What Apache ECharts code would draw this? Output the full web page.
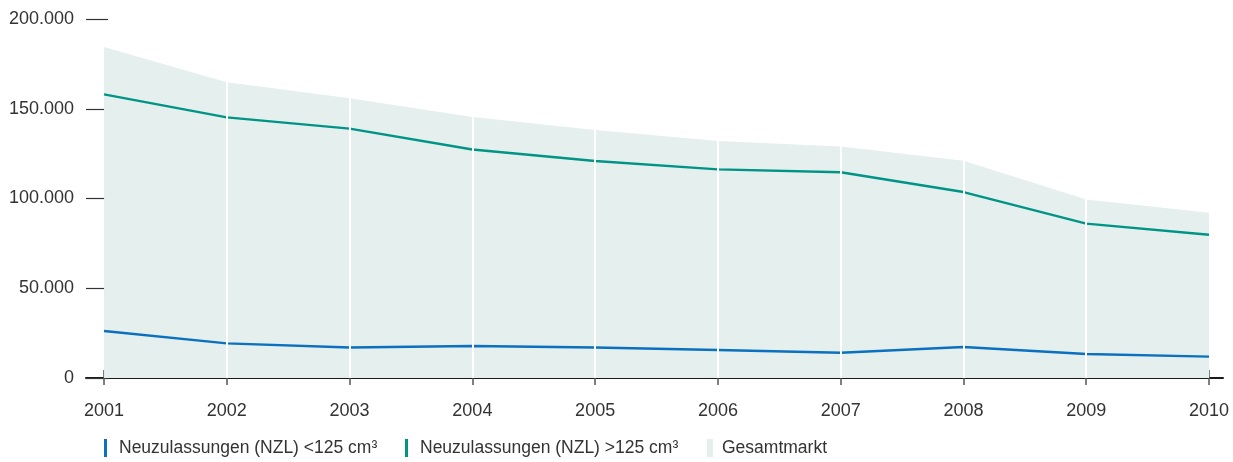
<!DOCTYPE html>
<html>
<head>
<meta charset="utf-8">
<script src="https://cdn.jsdelivr.net/npm/echarts@6/dist/echarts.min.js"></script>
<style>
  html, body { margin: 0; padding: 0; background: #fff; }
  #chart { width: 1233px; height: 462px; }
</style>
</head>
<body>
<div id="chart"></div>
<script>
// Neuzulassungen von Krafträdern 2001–2010
const years = [2001, 2002, 2003, 2004, 2005, 2006, 2007, 2008, 2009, 2010];
const nzlUnder125 = [26200, 19300, 17000, 17800, 17000, 15600, 14100, 17300, 13400, 11900];
const nzlOver125 = [158000, 145200, 138900, 127300, 120900, 116200, 114600, 103600, 86000, 79800];
const gesamtmarkt = [184400, 164700, 155800, 145400, 138200, 132000, 128900, 121100, 99500, 92100];
const yTicks = [0, 50000, 100000, 150000, 200000];

const seriesNames = ['Neuzulassungen (NZL) <125 cm³', 'Neuzulassungen (NZL) >125 cm³', 'Gesamtmarkt'];
const colors = { under: '#0a70bf', over: '#009486', total: '#e5efed' };

const pairs = arr => years.map((y, i) => [y, arr[i]]);
const fmt = v => String(v).replace(/\B(?=(\d{3})+(?!\d))/g, '.');
const font = '"Liberation Sans", Arial, sans-serif';

const chart = echarts.init(document.getElementById('chart'));

const xBase = {
  type: 'value',
  min: 2000.853,
  max: 2010.114,
  splitLine: { show: false }
};

// one legend block per series, each with its own marker size and spacing
const legendLayout = [
  { left: 104, width: 3, pad: 7 },
  { left: 405, width: 3, pad: 7 },
  { left: 707, width: 6, pad: 4 }
];

chart.setOption({
  animation: false,
  grid: { left: 86, right: 10, top: 19, bottom: 84 },
  xAxis: [
    Object.assign({}, xBase, {
      position: 'bottom',
      axisLine: { show: true, lineStyle: { color: '#1a1a1a', width: 2 } },
      axisTick: { show: true, customValues: years, length: 7, lineStyle: { color: '#555', width: 1.5 } },
      axisLabel: {
        show: true, customValues: years, margin: 24,
        formatter: v => String(v),
        color: '#333', fontSize: 18, fontFamily: font
      }
    }),
    Object.assign({}, xBase, {
      position: 'bottom',
      axisLine: { show: false },
      axisTick: { show: true, inside: true, customValues: years, length: 8, lineStyle: { color: '#555', width: 1.5 } },
      axisLabel: { show: false }
    })
  ],
  yAxis: {
    type: 'value',
    min: yTicks[0],
    max: yTicks[yTicks.length - 1],
    interval: yTicks[1] - yTicks[0],
    axisLine: { show: false },
    axisTick: { show: true, inside: true, length: 22, lineStyle: { color: '#333', width: 1.2 } },
    splitLine: { show: false },
    axisLabel: {
      margin: 12, color: '#333', fontSize: 18, fontFamily: font,
      formatter: v => fmt(v)
    }
  },
  legend: legendLayout.map((l, i) => ({
    data: [{ name: seriesNames[i], icon: 'rect' }],
    left: l.left,
    top: 439,
    padding: 0,
    itemWidth: l.width,
    itemHeight: 18,
    selectedMode: false,
    textStyle: { color: '#333', fontSize: 17.5, fontFamily: font, padding: [0, 0, 0, l.pad] }
  })),
  series: [
    {
      name: seriesNames[2],
      type: 'line',
      data: pairs(gesamtmarkt),
      symbol: 'none',
      color: colors.total,
      lineStyle: { width: 0 },
      areaStyle: { color: colors.total, opacity: 1 },
      z: 1,
      markLine: {
        silent: true,
        symbol: 'none',
        label: { show: false },
        lineStyle: { color: '#ffffff', width: 2, type: 'solid' },
        data: years.slice(1, -1).map(y => ({ xAxis: y }))
      }
    },
    {
      name: seriesNames[1],
      type: 'line',
      data: pairs(nzlOver125),
      symbol: 'none',
      color: colors.over,
      lineStyle: { width: 2.4 },
      z: 3
    },
    {
      name: seriesNames[0],
      type: 'line',
      data: pairs(nzlUnder125),
      symbol: 'none',
      color: colors.under,
      lineStyle: { width: 2.4 },
      z: 3
    }
  ]
});
</script>
</body>
</html>
